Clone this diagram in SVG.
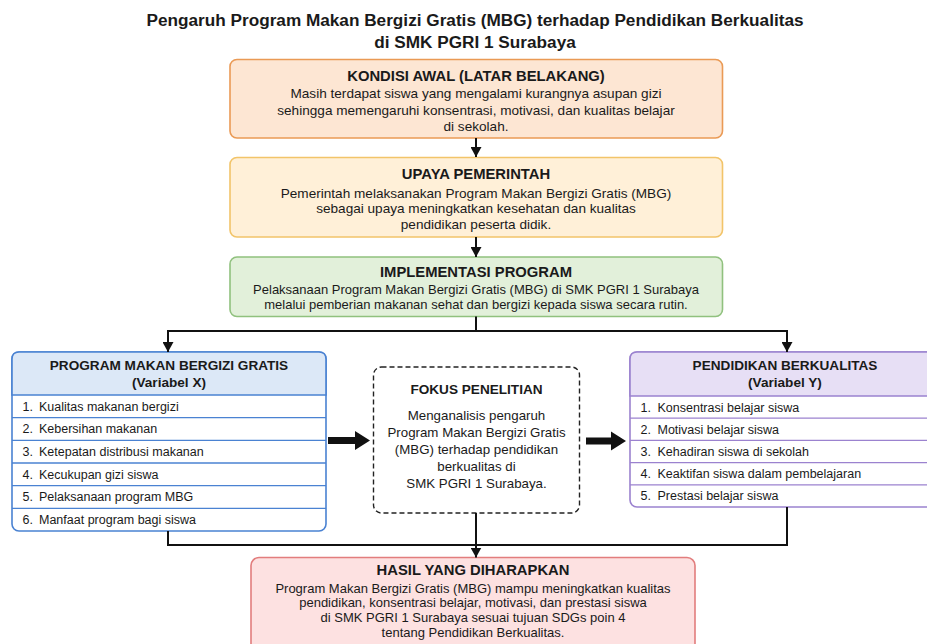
<svg xmlns="http://www.w3.org/2000/svg" width="927" height="644" viewBox="0 0 927 644">
<defs>
<marker id="ah" markerWidth="11" markerHeight="11" refX="10" refY="5.5" orient="auto" markerUnits="userSpaceOnUse">
<path d="M0,0 L10,5.5 L0,11 Z" fill="#111"/>
</marker>
<style>
text{font-family:"Liberation Sans",Arial,sans-serif;fill:#1a1a1a}
.title{font-size:17.2px;font-weight:bold;text-anchor:middle}
.h{font-size:14.8px;font-weight:bold;text-anchor:middle}
.hs{font-size:13.6px;font-weight:bold;text-anchor:middle}
.b{font-size:13px;text-anchor:middle}
.bl{font-size:13.6px;text-anchor:middle}
.bf{font-size:13.3px;text-anchor:middle}
.i{font-size:12.5px}
.conn{stroke:#111;stroke-width:2;fill:none}
.row{stroke-width:1.3}
</style>
</defs>
<rect width="927" height="644" fill="#ffffff"/>
<g id="title">
<text class="title" x="475" y="26">Pengaruh Program Makan Bergizi Gratis (MBG) terhadap Pendidikan Berkualitas</text>
<text class="title" x="475" y="48">di SMK PGRI 1 Surabaya</text>
</g>
<g id="kondisi-awal">
<rect x="230" y="59.5" width="492.5" height="78.5" rx="7" fill="#fde6d3" stroke="#ea9a55" stroke-width="1.6"/>
<text class="h" x="476" y="81">KONDISI AWAL (LATAR BELAKANG)</text>
<text class="bl" x="476" y="98">Masih terdapat siswa yang mengalami kurangnya asupan gizi</text>
<text class="bl" x="476" y="114.5">sehingga memengaruhi konsentrasi, motivasi, dan kualitas belajar</text>
<text class="bl" x="476" y="131">di sekolah.</text>
</g>
<g id="upaya-pemerintah">
<rect x="230" y="157.5" width="492.5" height="79.5" rx="7" fill="#fff0d8" stroke="#f2c469" stroke-width="1.6"/>
<text class="h" x="476" y="178.5">UPAYA PEMERINTAH</text>
<text class="bl" x="476" y="197.5">Pemerintah melaksanakan Program Makan Bergizi Gratis (MBG)</text>
<text class="bl" x="476" y="213">sebagai upaya meningkatkan kesehatan dan kualitas</text>
<text class="bl" x="476" y="228.5">pendidikan peserta didik.</text>
</g>
<g id="implementasi">
<rect x="230" y="257" width="492.5" height="59.5" rx="7" fill="#e2f0da" stroke="#90c17e" stroke-width="1.6"/>
<text class="h" x="476" y="277">IMPLEMENTASI PROGRAM</text>
<text class="b" x="476" y="293.5">Pelaksanaan Program Makan Bergizi Gratis (MBG) di SMK PGRI 1 Surabaya</text>
<text class="b" x="476" y="308.5">melalui pemberian makanan sehat dan bergizi kepada siswa secara rutin.</text>
</g>
<g id="variabel-x">
<rect x="12" y="352" width="314" height="179" rx="7" fill="#ffffff" stroke="#4a82d2" stroke-width="1.6"/>
<path d="M12,395 V359 Q12,352 19,352 H319 Q326,352 326,359 V395 Z" fill="#dce8f7" stroke="#4a82d2" stroke-width="1.6"/>
<g stroke="#4a82d2" class="row">
<line x1="12" y1="417.7" x2="326" y2="417.7"/>
<line x1="12" y1="440.3" x2="326" y2="440.3"/>
<line x1="12" y1="463" x2="326" y2="463"/>
<line x1="12" y1="485.7" x2="326" y2="485.7"/>
<line x1="12" y1="508.3" x2="326" y2="508.3"/>
</g>
<text class="hs" x="169" y="369.5">PROGRAM MAKAN BERGIZI GRATIS</text>
<text class="hs" x="169" y="387">(Variabel X)</text>
<text class="i" x="22.5" y="410.5">1.<tspan x="39">Kualitas makanan bergizi</tspan></text>
<text class="i" x="22.5" y="433">2.<tspan x="39">Kebersihan makanan</tspan></text>
<text class="i" x="22.5" y="456">3.<tspan x="39">Ketepatan distribusi makanan</tspan></text>
<text class="i" x="22.5" y="478.5">4.<tspan x="39">Kecukupan gizi siswa</tspan></text>
<text class="i" x="22.5" y="501">5.<tspan x="39">Pelaksanaan program MBG</tspan></text>
<text class="i" x="22.5" y="523.5">6.<tspan x="39">Manfaat program bagi siswa</tspan></text>
</g>
<g id="fokus-penelitian">
<rect x="373.5" y="367" width="206" height="146" rx="8" fill="#ffffff" stroke="#222" stroke-width="1.4" stroke-dasharray="5 3"/>
<text class="hs" x="476.5" y="393.5">FOKUS PENELITIAN</text>
<text class="bf" x="476.5" y="420">Menganalisis pengaruh</text>
<text class="bf" x="476.5" y="437">Program Makan Bergizi Gratis</text>
<text class="bf" x="476.5" y="454">(MBG) terhadap pendidikan</text>
<text class="bf" x="476.5" y="471">berkualitas di</text>
<text class="bf" x="476.5" y="488">SMK PGRI 1 Surabaya.</text>
</g>
<g id="variabel-y">
<rect x="630" y="352" width="312" height="155" rx="7" fill="#ffffff" stroke="#9b82cf" stroke-width="1.6"/>
<path d="M630,396 V359 Q630,352 637,352 H935 Q942,352 942,359 V396 Z" fill="#e7dff5" stroke="#9b82cf" stroke-width="1.6"/>
<g stroke="#9b82cf" class="row">
<line x1="630" y1="418.2" x2="942" y2="418.2"/>
<line x1="630" y1="440.4" x2="942" y2="440.4"/>
<line x1="630" y1="462.6" x2="942" y2="462.6"/>
<line x1="630" y1="484.8" x2="942" y2="484.8"/>
</g>
<text class="hs" x="785" y="369.5">PENDIDIKAN BERKUALITAS</text>
<text class="hs" x="785" y="387">(Variabel Y)</text>
<text class="i" x="640.5" y="411.5">1.<tspan x="657.5">Konsentrasi belajar siswa</tspan></text>
<text class="i" x="640.5" y="433.5">2.<tspan x="657.5">Motivasi belajar siswa</tspan></text>
<text class="i" x="640.5" y="455.8">3.<tspan x="657.5">Kehadiran siswa di sekolah</tspan></text>
<text class="i" x="640.5" y="478">4.<tspan x="657.5">Keaktifan siswa dalam pembelajaran</tspan></text>
<text class="i" x="640.5" y="500">5.<tspan x="657.5">Prestasi belajar siswa</tspan></text>
</g>
<g id="hasil">
<rect x="251" y="557.5" width="444" height="96" rx="8" fill="#fde1e1" stroke="#e27d7d" stroke-width="1.6"/>
<text class="h" x="473" y="575">HASIL YANG DIHARAPKAN</text>
<text class="b" x="473" y="592.5">Program Makan Bergizi Gratis (MBG) mampu meningkatkan kualitas</text>
<text class="b" x="473" y="607">pendidikan, konsentrasi belajar, motivasi, dan prestasi siswa</text>
<text class="b" x="473" y="622">di SMK PGRI 1 Surabaya sesuai tujuan SDGs poin 4</text>
<text class="b" x="473" y="637">tentang Pendidikan Berkualitas.</text>
</g>
<g id="connectors">
<line class="conn" x1="476" y1="138" x2="476" y2="157" marker-end="url(#ah)"/>
<line class="conn" x1="476" y1="237" x2="476" y2="257" marker-end="url(#ah)"/>
<polyline class="conn" points="476,316.5 476,331"/>
<line class="conn" x1="167" y1="331" x2="788" y2="331"/>
<line class="conn" x1="168" y1="331" x2="168" y2="352" marker-end="url(#ah)"/>
<line class="conn" x1="787" y1="331" x2="787" y2="352" marker-end="url(#ah)"/>
<polygon points="328,437 355,437 355,431 370,440.5 355,450 355,444 328,444" fill="#111"/>
<polygon points="586,437.5 611,437.5 611,431.5 626,441 611,450.5 611,444.5 586,444.5" fill="#111"/>
<line class="conn" x1="168" y1="531" x2="168" y2="546"/>
<line class="conn" x1="787" y1="507" x2="787" y2="546"/>
<line class="conn" x1="476" y1="513" x2="476" y2="545"/>
<line class="conn" x1="167" y1="545" x2="788" y2="545"/>
<line class="conn" x1="476" y1="545" x2="476" y2="557.5" marker-end="url(#ah)"/>
</g>
</svg>
